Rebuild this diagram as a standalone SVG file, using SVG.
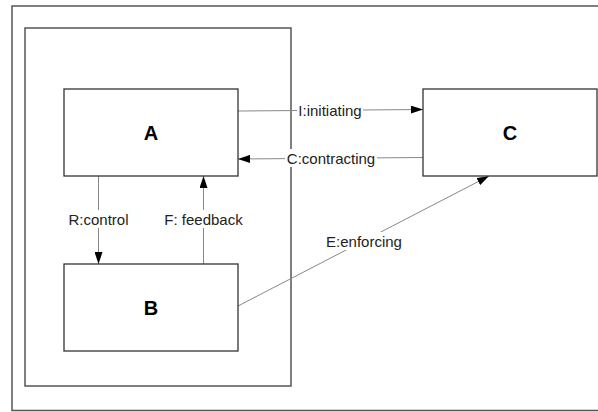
<svg xmlns="http://www.w3.org/2000/svg" width="598" height="412" viewBox="0 0 598 412">
<defs>
<marker id="arr" viewBox="0 0 12 8" refX="12" refY="4" markerWidth="12" markerHeight="8" markerUnits="userSpaceOnUse" orient="auto">
<path d="M0,0 L12,4 L0,8 Z" fill="#000"/>
</marker>
<style>
.frame{fill:none;stroke:#555;stroke-width:1.5}
.box{fill:#fff;stroke:#333;stroke-width:1.3}
.node{font-family:"Liberation Sans",Arial,sans-serif;font-size:20px;font-weight:bold;fill:#000;text-anchor:middle;dominant-baseline:central}
.edge{fill:none;stroke:#888;stroke-width:1}
.lbl{font-family:"Liberation Sans",Arial,sans-serif;font-size:15px;fill:#222;text-anchor:middle;dominant-baseline:central}
.bg{fill:#fff}
</style>
</defs>
<rect width="598" height="412" fill="#fff"/>
<g id="frames">
<rect class="frame" x="12" y="6" width="700" height="404.5"/>
<rect class="frame" x="25" y="28" width="266" height="358"/>
</g>
<g id="connectors">
<line class="edge" x1="238" y1="111" x2="423" y2="109.5" marker-end="url(#arr)"/>
<line class="edge" x1="423" y1="157.5" x2="238" y2="159" marker-end="url(#arr)"/>
<line class="edge" x1="98.5" y1="176" x2="98.5" y2="264" marker-end="url(#arr)"/>
<line class="edge" x1="203.5" y1="264" x2="203.5" y2="176" marker-end="url(#arr)"/>
<line class="edge" x1="238" y1="306" x2="489" y2="176" marker-end="url(#arr)"/>
<rect class="bg" x="297" y="101" width="66" height="18"/>
<text class="lbl" x="330" y="110">I:initiating</text>
<rect class="bg" x="285" y="149" width="92" height="18"/>
<text class="lbl" x="331" y="158">C:contracting</text>
<rect class="bg" x="66" y="210" width="65" height="18"/>
<text class="lbl" x="98.5" y="219">R:control</text>
<rect class="bg" x="162" y="210" width="83" height="18"/>
<text class="lbl" x="203.5" y="219">F: feedback</text>
<rect class="bg" x="326" y="232" width="77" height="18"/>
<text class="lbl" x="364" y="241">E:enforcing</text>
</g>
<g id="node-A">
<rect class="box" x="64" y="89" width="174" height="87"/>
<text class="node" x="151" y="132.5">A</text>
</g>
<g id="node-B">
<rect class="box" x="64" y="264" width="174" height="87"/>
<text class="node" x="151" y="307.5">B</text>
</g>
<g id="node-C">
<rect class="box" x="423" y="89" width="174" height="87"/>
<text class="node" x="510" y="132.5">C</text>
</g>
</svg>
